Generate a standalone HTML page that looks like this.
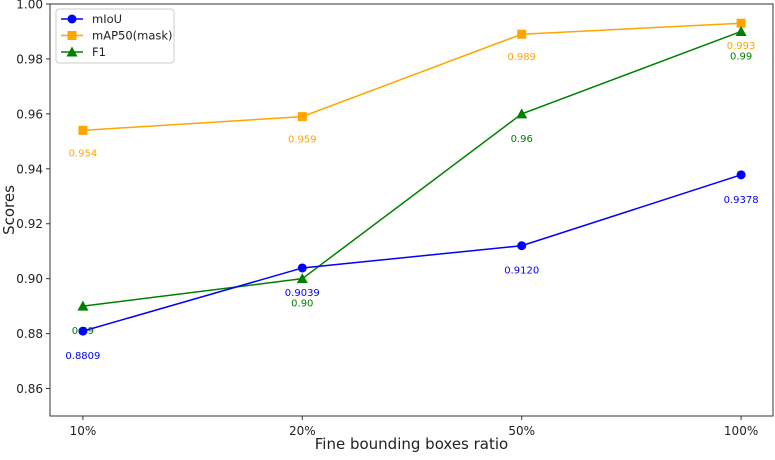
<!DOCTYPE html>
<html><head><meta charset="utf-8"><style>
body{margin:0;background:#fff;}
svg{font-family:"DejaVu Sans","Liberation Sans",sans-serif;}
</style></head><body>
<svg id="c" width="775" height="455"></svg>
<script>
const categories=["10%","20%","50%","100%"];
const mIoU=[0.8809,0.9039,0.9120,0.9378];
const mAP=[0.954,0.959,0.989,0.993];
const f1=[0.89,0.90,0.96,0.99];
const mIoULabels=["0.8809","0.9039","0.9120","0.9378"];
const mAPLabels=["0.954","0.959","0.989","0.993"];
const f1Labels=["0.89","0.90","0.96","0.99"];
const yTicks=[0.86,0.88,0.90,0.92,0.94,0.96,0.98,1.00];

const L=50,R=773,T=4,B=416;
const x=i=>L+(i+0.15)/3.3*(R-L+1);
const y=v=>B-(v-0.85)/0.15*(B-T);
const svg=document.getElementById('c');
const NS='http://www.w3.org/2000/svg';
function mk(t,a,p){const e=document.createElementNS(NS,t);for(const k in a)e.setAttribute(k,a[k]);(p||svg).appendChild(e);return e;}

const frame=mk('rect',{x:L,y:T,width:R-L,height:B-T,fill:'none',stroke:'#333','stroke-width':1});



yTicks.forEach(v=>{
  const g=mk('g',{});
  
  
  mk('line',{x1:L-4,x2:L,y1:y(v),y2:y(v),stroke:'#333'},g);
  const t=mk('text',{x:L-7,y:y(v)+4.5,'text-anchor':'end','font-size':12,fill:'#222'},g);
  t.textContent=v.toFixed(2);
});
categories.forEach((c,i)=>{
  const g=mk('g',{});
  
  
  mk('line',{x1:x(i),x2:x(i),y1:B,y2:B+4,stroke:'#333'},g);
  const t=mk('text',{x:x(i),y:B+19,'text-anchor':'middle','font-size':12,fill:'#222'},g);
  t.textContent=c;
});
const xt=mk('text',{x:(L+R)/2,y:449,'text-anchor':'middle','font-size':15,fill:'#222'});
xt.textContent='Fine bounding boxes ratio';


const yt=mk('text',{x:14,y:(T+B)/2,'text-anchor':'middle','font-size':15,fill:'#222',transform:`rotate(-90 14 ${(T+B)/2})`});
yt.textContent='Scores';



function marker(g,shape,cx,cy,col){
  if(shape==='o')mk('circle',{cx,cy,r:4.5,fill:col},g);
  else if(shape==='s')mk('rect',{x:cx-4.5,y:cy-4.5,width:9,height:9,fill:col},g);
  else mk('polygon',{points:`${cx},${cy-5.5} ${cx-5.5},${cy+4.5} ${cx+5.5},${cy+4.5}`,fill:col},g);
}
function series(name,vals,labels,col,shape,off){
  const g=mk('g',{});
  
  
  mk('polyline',{points:vals.map((v,i)=>x(i)+','+y(v)).join(' '),fill:'none',stroke:col,'stroke-width':1.5},g);
  vals.forEach((v,i)=>{
    marker(g,shape,x(i),y(v),col);
    const t=mk('text',{x:x(i),y:y(v)+off,'text-anchor':'middle','font-size':10,fill:col},g);
    t.textContent=labels[i];
    
    
  });
}
series('mAP50',mAP,mAPLabels,'#ffa500','s',26);
series('f1',f1,f1Labels,'#008000','^',28);
series('miou',mIoU,mIoULabels,'#0000ff','o',28);

const lg=mk('g',{});


mk('rect',{x:56,y:9,width:118,height:54,rx:3,fill:'#fff',stroke:'#ccc','fill-opacity':0.8},lg);
[['mIoU','#0000ff','o'],['mAP50(mask)','#ffa500','s'],['F1','#008000','^']].forEach((e,i)=>{
  const g=mk('g',{},lg);
  
  
  const cy=19+i*16.5;
  mk('line',{x1:61,x2:83,y1:cy,y2:cy,stroke:e[1],'stroke-width':1.5},g);
  marker(g,e[2],72,cy,e[1]);
  const t=mk('text',{x:92,y:cy+4,'font-size':11.5,fill:'#222'},g);
  t.textContent=e[0];
});
</script>
</body></html>
